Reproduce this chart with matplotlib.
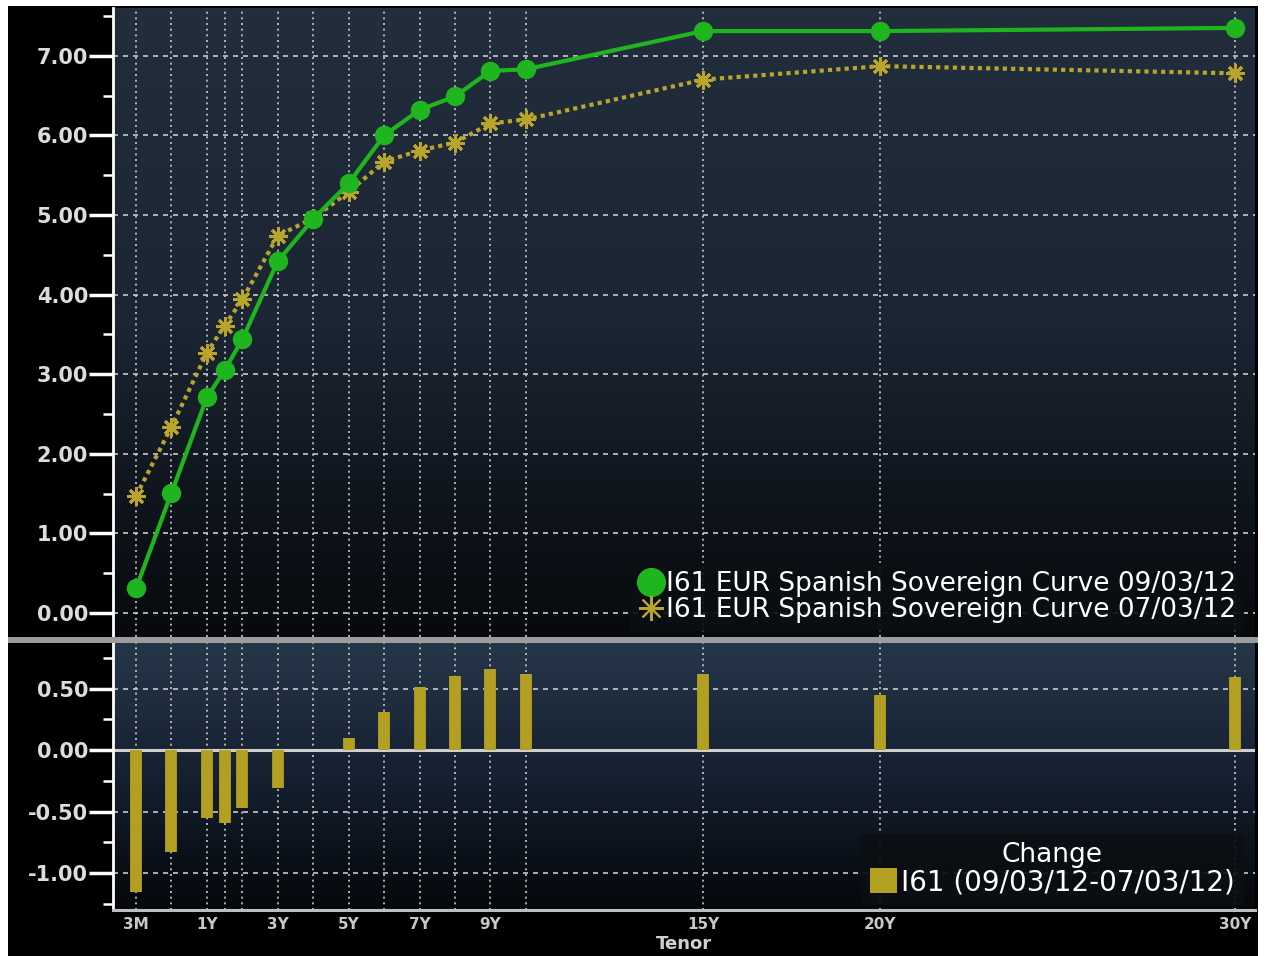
import numpy as np
import matplotlib
matplotlib.use('Agg')
import matplotlib.pyplot as plt
from matplotlib.patches import Rectangle, Patch
from matplotlib.lines import Line2D
from matplotlib.colors import LinearSegmentedColormap
from matplotlib.ticker import MultipleLocator, FixedLocator, FixedFormatter

# --- data --------------------------------------------------------------------
tenor_years = [0.25, 0.5, 1, 1.5, 2, 3, 4, 5, 6, 7, 8, 9, 10, 15, 20, 30]
curve_0903 = [0.31, 1.51, 2.71, 3.05, 3.44, 4.42, 4.95, 5.40, 6.00, 6.32,
              6.49, 6.81, 6.83, 7.31, 7.31, 7.35]
curve_0703 = [1.47, 2.34, 3.27, 3.61, 3.94, 4.74, 4.96, 5.29, 5.67, 5.81,
              5.91, 6.15, 6.20, 6.70, 6.87, 6.78]
change = [-1.15, -0.83, -0.55, -0.59, -0.47, -0.31, 0.0, 0.10, 0.31, 0.51,
          0.60, 0.66, 0.62, 0.62, 0.45, 0.59]
tick_tenors = [0.25, 1, 3, 5, 7, 9, 15, 20, 30]
tick_labels = ['3M', '1Y', '3Y', '5Y', '7Y', '9Y', '15Y', '20Y', '30Y']

label_new = 'I61 EUR Spanish Sovereign Curve 09/03/12'
label_old = 'I61 EUR Spanish Sovereign Curve 07/03/12'
label_chg = 'I61 (09/03/12-07/03/12)'

GREEN = '#1fb51f'
GOLD = '#b9a42c'
BAR = '#b3a022'
GRID = '#c9c9c9'
TXT = '#dcdcdc'


# tenor axis: months spaced by doubling, years linear
def fwd(t):
    t = np.asarray(t, dtype=float)
    return np.where(t < 1, np.log2(np.maximum(t, 1e-9)) + 1, t)


def inv(p):
    p = np.asarray(p, dtype=float)
    return np.where(p < 1, 2.0 ** (np.minimum(p, 1) - 1), p)


def dark_legend(leg):
    fr = leg.get_frame()
    fr.set_facecolor('#0b0e12')
    fr.set_alpha(0.92)
    fr.set_edgecolor('none')
    fr.set_boxstyle('square', pad=0)
    for t in leg.get_texts():
        t.set_color('white')
    leg.set_zorder(6)


W, H = 1267, 956
fig = plt.figure(figsize=(W / 100, H / 100), dpi=100, facecolor='white')

# black canvas with thin white margin on the left / top / right
fig.patches.append(Rectangle((8 / W, 0), 1250 / W, 950 / H, transform=fig.transFigure,
                             facecolor='black', edgecolor='none', zorder=-10))

left, width = 113 / W, 1142 / W
ax_top = fig.add_axes([left, (H - 637) / H, width, 629 / H])
ax_bot = fig.add_axes([left, (H - 910) / H, width, 267 / H])

grad_top = LinearSegmentedColormap.from_list('gt', ['#07090c', '#1b2533', '#232e3c'])
grad_bot = LinearSegmentedColormap.from_list('gb', ['#05070a', '#152030', '#263649'])
xlim = (inv(-1.65), 30.57)

for ax, cmap in [(ax_top, grad_top), (ax_bot, grad_bot)]:
    ax.set_xscale('function', functions=(fwd, inv))
    ax.set_facecolor('black')
    ax.imshow(np.linspace(0, 1, 256).reshape(-1, 1), extent=[0, 1, 0, 1],
              transform=ax.transAxes, cmap=cmap, origin='lower',
              aspect='auto', zorder=0)
    for t in tenor_years:
        ax.axvline(t, color=GRID, lw=1.2, ls=(0, (1.2, 2.2)), zorder=1)
    for s in ['top', 'right', 'bottom']:
        ax.spines[s].set_visible(False)
    ax.spines['left'].set_color('white')
    ax.spines['left'].set_linewidth(2)
    ax.tick_params(axis='y', which='major', direction='out', length=17, width=2.5,
                   color='white', labelcolor=TXT, labelsize=15, pad=1)
    ax.tick_params(axis='y', which='minor', direction='out', length=7, width=1.8,
                   color='white')
    for lab in ax.get_yticklabels():
        lab.set_fontweight('bold')
    ax.set_xlim(*xlim)

# --- top panel: the two curves --------------------------------------------
ax_top.plot(tenor_years, curve_0703, color=GOLD, lw=3, ls=(0, (1, 1)),
            marker=(8, 2, 0), ms=13, mew=2.2, mec=GOLD, zorder=3)
ax_top.plot(tenor_years, curve_0903, color=GREEN, lw=3, marker='o', ms=13,
            mec=GREEN, zorder=4)
ax_top.set_ylim(-0.3, 7.6)
ax_top.yaxis.set_major_locator(MultipleLocator(1))
ax_top.yaxis.set_minor_locator(MultipleLocator(0.5))
ax_top.yaxis.set_major_formatter(matplotlib.ticker.FormatStrFormatter('%.2f'))
for y in range(0, 8):
    ax_top.axhline(y, color=GRID, lw=1.2, ls=(0, (3, 3)), zorder=1)
ax_top.set_xticks([])
ax_top.set_xticks([], minor=True)

h_new = Line2D([], [], color=GREEN, marker='o', ls='none', ms=20)
h_old = Line2D([], [], color=GOLD, marker=(8, 2, 0), ls='none', ms=18, mew=1.5)
leg = ax_top.legend([h_new, h_old], [label_new, label_old], loc='lower right',
                    bbox_to_anchor=(0.99, 0.01), fontsize=19, frameon=True,
                    handlelength=1.0, handletextpad=0.05, borderpad=0.3,
                    labelspacing=0.0, borderaxespad=0.0)
dark_legend(leg)

# --- bottom panel: change bars ------------------------------------------------
ax_bot.vlines(tenor_years, 0, change, color=BAR, lw=8.5, zorder=3, capstyle='butt')
ax_bot.set_ylim(-1.30, 0.87)
ax_bot.yaxis.set_major_locator(MultipleLocator(0.5))
ax_bot.yaxis.set_minor_locator(MultipleLocator(0.25))
ax_bot.yaxis.set_major_formatter(matplotlib.ticker.FormatStrFormatter('%.2f'))
for y in [-1.0, -0.5, 0.5]:
    ax_bot.axhline(y, color=GRID, lw=1.2, ls=(0, (3, 3)), zorder=1)
ax_bot.axhline(0, color='#cfcfcf', lw=2.2, zorder=2)
ax_bot.spines['bottom'].set_visible(True)
ax_bot.spines['bottom'].set_color('#bdbdbd')
ax_bot.spines['bottom'].set_linewidth(2.2)
ax_bot.xaxis.set_major_locator(FixedLocator(tick_tenors))
ax_bot.xaxis.set_major_formatter(FixedFormatter(tick_labels))
ax_bot.xaxis.set_minor_locator(FixedLocator([]))
ax_bot.tick_params(axis='x', length=0, pad=5, labelsize=11, labelcolor='#c8c8c8')
for lab in ax_bot.get_xticklabels():
    lab.set_fontweight('bold')
ax_bot.set_xlabel('Tenor', color='#d0d0d0', fontsize=13, fontweight='bold', labelpad=2)

leg2 = ax_bot.legend([Patch(facecolor=BAR, edgecolor='none')], [label_chg],
                     title='Change', loc='lower right', bbox_to_anchor=(0.99, 0.02),
                     fontsize=20, title_fontsize=19, frameon=True,
                     handlelength=1.0, handleheight=1.0, handletextpad=0.15,
                     borderpad=0.3, labelspacing=0.0, borderaxespad=0.0)
dark_legend(leg2)
leg2.get_title().set_color('white')

# grey separator between panels
fig.patches.append(Rectangle((8 / W, (H - 643) / H), 1250 / W, 6 / H,
                             transform=fig.transFigure, facecolor='#9c9c9c',
                             edgecolor='none', zorder=5))

fig.savefig('out.png', dpi=100, facecolor=fig.get_facecolor())
